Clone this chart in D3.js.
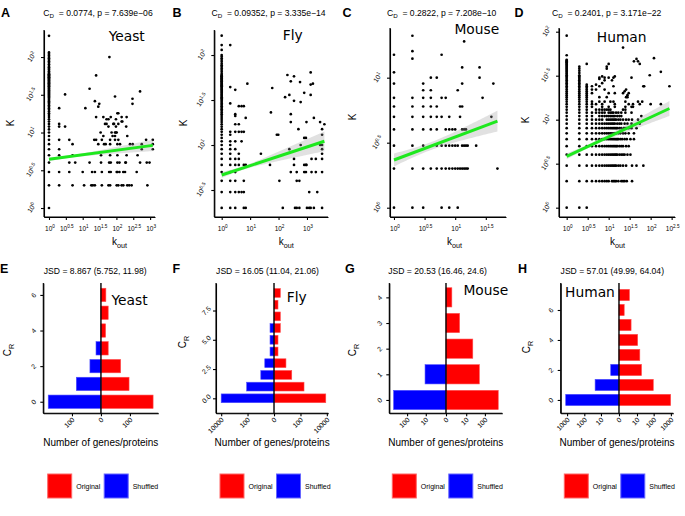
<!DOCTYPE html>
<html><head><meta charset="utf-8">
<script src="https://cdn.jsdelivr.net/npm/d3@7"></script>
<style>
body{margin:0;background:#fff}
text,tspan{font-family:"Liberation Sans",Arial,Helvetica,sans-serif;fill:#000}
.sp{font-family:"DejaVu Sans",sans-serif}
.axis path,.axis line{stroke:#000;stroke-width:1.1}
</style>
</head><body>
<svg id="c" width="685" height="516" xmlns="http://www.w3.org/2000/svg"></svg>
<script>
// ================= DATA =================
const speciesNames = ["Yeast","Fly","Mouse","Human"];
const cdValues = ["0.0774","0.09352","0.2822","0.2401"];
const pValues = ["7.639e\u221206","3.335e\u221214","7.208e\u221210","3.171e\u221222"];
const jsdLabels = ["8.867 (5.752, 11.98)","16.05 (11.04, 21.06)","20.53 (16.46, 24.6)","57.01 (49.99, 64.04)"];

// scatter: K values at k_out = 1 (columns) and [K, [k_out...]] rows / [k_out, [K...]] columns
const yeastCol1 = [1,2,3,4,5,6,7,8,9,10,11,12,13,14,15,16,17,18,19,20,21,22,23,24,25,26,27,28,29,30,31,32,33,34,35,36,37,38,39,40,41,42,43,44,45,46,47,48,49,50,51,52,53,54,55,56,57,58,59,60,62,65,68,70,73,76,80,84,88,92,96,100,105,110,115,191];
const yeastRows = [
 [2,[2,5,11,18,20,23,37,58,65,102,114,143,160,210,240,283,830]],
 [3,[2,4,10,19,23,37,61,68,102,107,123,160,180,400]],
 [4,[4,6,16,35,61,68,107,123,185,190,503,795,960]],
 [5,[2,5,35,65,107,201,425]],
 [6,[2,565,1200]],
 [7,[5,29,43,48,65,107,128,253,304,565,1200]],
 [8,[2,4,22,25,37,65,91,114,760,1200]],
 [9,[41,77,91,210]],
 [10,[34,72,91,97,102]],
 [12,[2,3,58,97,195]],
 [13,[2,46,51,81,85,114]],
 [14,[143,150]],
 [15,[51,58,97]],
 [16,[25,41,68,143,201]],
 [18,[107,114]],
 [21,[2,12]],
 [22,[29]],
 [24,[31,300]],
 [26,[23]],
 [28,[300]],
 [30,[91]],
 [32,[3]],
 [35,[503]],
 [38,[16]],
 [57,[25]],
 [100,[62]]
];
const flyCol1 = [2,3,4,5,6,7,8,9,10,11,12,13,14,15,16,17,18,19,20,21,22,23,24,25,26,27,28,29,30,31,32,33,34,35,36,37,38,39,40,41,42,43,44,45,46,47,48,49,50,51,52,53,54,55,56,57,58,59,60,62,65,68,71,74,77,80,84,88,92,96,100,114,129,164];
const flyCols = [
 [2,[129,44,29,14,13,11,10,9,8,7,6,5,4,3,2]],
 [3,[41,22,21,17,14,11,9,7,6,5,4,3,2]],
 [4,[27,17,14,8,7,6,3]],
 [5,[27,14,11,3]],
 [6,[27,14,6,4,3,2]],
 [7,[20,6,2]],
 [8,[48]],
 [24,[8]],
 [50,[6]],
 [54,[23]],
 [60,[43]],
 [87,[13]],
 [98,[13]],
 [107,[4]],
 [141,[2]],
 [170,[34]],
 [205,[60]],
 [240,[36,9]],
 [270,[51,22,18,5]],
 [350,[58,31,7,6]],
 [380,[2]],
 [436,[5,4,2]],
 [500,[15]],
 [540,[4,2]],
 [570,[50]],
 [600,[30,10]],
 [800,[38,12,6,5]],
 [920,[12,6,5]],
 [960,[18,6]],
 [1000,[2]],
 [1200,[3,2]],
 [1350,[64,47,36,2]],
 [1450,[7,5]],
 [1620,[48]],
 [1750,[20,2]],
 [2050,[7,5]],
 [2300,[3]],
 [2900,[18,10]],
 [3400,[15,13,10,9,8,7,5,2]],
 [4100,[17]]
];
const mouseCols = [
 [1,[15,11,9,7,6,5,4,3,2,1]],
 [2,[21,16,14,7,6,5,4,3,2,1]],
 [3,[9,8,7,6,5,4,3,2,1]],
 [4,[10,8,7,6,5,4,2]],
 [5,[10,6,5,4,3,2]],
 [6,[15,7,5,3,2,1]],
 [7,[7,4,3,2]],
 [8,[5,4,3,2,1]],
 [9,[4,3,2]],
 [10,[4,3,2]],
 [11,[8,3,2,1]],
 [12,[6,5,2]],
 [13,[12,9,6,4,3,2]],
 [14,[19,4,3,2]],
 [15,[4,3,2]],
 [16,[3,2]],
 [22,[3]],
 [25,[12,10]],
 [28,[7]],
 [39,[5]],
 [42,[9]],
 [49,[2]]
];
const humanCol1 = [1,2,3,4,5,6,7,8,9,10,11,12,13,14,15,16,17,18,19,20,21,22,23,24,25,26,27,28,29,30,31,32,33,34,35,36,37,38,39,40,41,42,43,44,45,46,47,48,54,90];
const humanCol2 = [1,2,3,4,5,6,7,8,9,10,11,12,13,14,15,16,17,18,19,20,21,22,23,24,25,26,27,28,29,30,31,32,34,36,38,40];
const humanCol3 = [1,2,3,4,5,6,7,8,9,10,11,12,13,14,15,16,17,18,19,20,21,22,23,24,25,43];
const humanRows = [
 [2,[4,5,6,7,8,9,10,12,13,14,15,17,20,22,24,27,36]],
 [3,[4,5,6,7,8,9,10,11,12,13,14,15,17,19,22,26,36,46,67]],
 [4,[4,5,6,7,8,9,10,11,12,13,14,15,16,18,20,22,24,28,33]],
 [5,[4,5,6,7,8,9,10,11,12,13,14,15,16,18,20,22,26,30]],
 [6,[4,5,6,7,8,9,10,11,12,13,14,15,16,17,19,21,24,27,33,40]],
 [7,[4,5,6,7,8,9,10,11,12,13,14,15,17,19,22,25,30,40]],
 [8,[4,5,6,7,8,9,10,11,12,13,14,15,16,18,20,23,26,30,35,46]],
 [9,[4,5,6,7,8,9,10,11,12,13,14,16,18,20,24,28,35,55]],
 [10,[4,5,6,7,9,10,11,12,13,14,15,17,19,22,26,30,36,50]],
 [11,[4,6,7,8,9,10,11,12,13,14,16,18,20,60]],
 [12,[4,5,6,7,8,10,11,12,13,15,17,20,25,35]],
 [13,[5,6,7,8,9,10,11,22,25]],
 [14,[4,7,10,14,25,35,38]],
 [15,[4,5,7,14,30,38,55,100,175]],
 [16,[4,6,8,11,13,25,50,63]],
 [18,[6,9,26,28]],
 [19,[28]],
 [20,[4,10,14,22,30]],
 [21,[24]],
 [22,[4,5,8,26]],
 [24,[4,6,13,67,70,280]],
 [25,[5]],
 [26,[7]],
 [28,[8,12]],
 [29,[6]],
 [30,[6,8,10,13,35]],
 [31,[7,14]],
 [32,[95]],
 [35,[175]],
 [38,[9]],
 [40,[9]],
 [43,[10,55]],
 [46,[40,50]],
 [49,[46]],
 [50,[120]],
 [66,[22]]
];
// fitted lines in log10 space
const fitIntercept = [0.645,0.667,0.367,0.584];
const fitSlope = [0.06,0.1036,0.177,0.222];
const bandMin = [0.015,0.02,0.03,0.02];
const bandRight = [0.075,0.11,0.08,0.085];
const bandCenterFrac = [0.2,0.2,0.35,0.25];
// tick exponents
const xTickExp = [[0,0.5,1,1.5,2,2.5,3],[0,1,2,3],[0,0.5,1,1.5],[0,0.5,1,1.5,2,2.5]];
const yTickExp = [[0,0.5,1,1.5,2],[0.5,1,1.5,2],[0,0.5,1],[0,0.5,1,1.5,2]];

// bar charts
const crYeast = [0,1,2,3,4,5,6];
const origYeast = [180,97,68,25,16,25,17];
const shufYeast = [182,85,38,17,0,0,0];
const crFly = [0,1,2,3,4,5,6,7,8,9];
const origFly = [8300,186,21,7,1,1,2,2,1,2];
const shufFly = [10000,116,9,4,1,1,1,0,0,0];
const crMouse = [0,1,2,3,4];
const origMouse = [490,51,23,4,1];
const shufMouse = [500,11,0,0,0];
const crHuman = [0,1,2,3,4,5,6,7];
const origHuman = [970,95,19,15,11,4,1,3];
const shufHuman = [1200,23,2,0,0,0,0,0];
const barXTicks = [[-100,0,100],[-10000,-100,0,100,10000],[-100,-10,0,10,100],[-1000,-100,-10,0,10,100,1000]];
const barYTicks = [[0,2,4,6],[0,2.5,5,7.5],[0,1,2,3,4],[0,2,4,6]];
const barYFormat = ["d",".1f","d","d"];

// ================= BUILD POINTS =================
const yeastPts = [...yeastCol1.map(k=>[1,k]), ...yeastRows.flatMap(([k,xs])=>xs.map(v=>[v,k]))];
const flyPts = [...flyCol1.map(k=>[1,k]), ...flyCols.flatMap(([v,ks])=>ks.map(k=>[v,k]))];
const mousePts = mouseCols.flatMap(([v,ks])=>ks.map(k=>[v,k]));
const humanPts = [...humanCol1.map(k=>[1,k]), ...humanCol2.map(k=>[2,k]), ...humanCol3.map(k=>[3,k]),
  ...humanRows.flatMap(([k,xs])=>xs.map(v=>[v,k]))];
const allPts = [yeastPts, flyPts, mousePts, humanPts];

// ================= LAYOUT =================
const scatterL = [
 {x0:44, x1:155, y0:30, y1:217, xl:[-0.148,3.145], yl:[-0.119,2.358], letterX:1, titleX:98, spX:126.7, spY:40.7, kX:14, kY:123, koX:119.5},
 {x0:214.3, x1:328, y0:30, y1:217, xl:[-0.26,3.74], yl:[0.2,2.278], letterX:172.5, titleX:268.5, spX:292.8, spY:39.5, kX:187, kY:123, koX:286.3},
 {x0:390, x1:506, y0:28, y1:217, xl:[-0.065,1.83], yl:[-0.0715,1.382], letterX:342.5, titleX:441.7, spX:476.8, spY:34, kX:355.5, kY:117, koX:454.5},
 {x0:559, x1:675, y0:28, y1:217, xl:[-0.183,2.58], yl:[-0.106,2.042], letterX:514.5, titleX:606.7, spX:621.7, spY:41.7, kX:529, kY:120, koX:617.5}
];
const barL = [
 {x0:43.3, x1:158.3, y0:283, y1:413.3, xd:[-199,198], yd:[-0.65,6.67], lin:true, letterX:0, titleX:95.2, spX:129.5, spY:304.5, crX:11, crY:350, legX:47.7},
 {x0:216, x1:328.3, y0:283, y1:413.3, xd:[-24700,12900], yd:[-1.28,9.85], letterX:172.5, titleX:267.5, spX:296.7, spY:301.5, crX:186, crY:342, legX:220},
 {x0:389.3, x1:502.3, y0:283, y1:413.3, xd:[-833,795], yd:[-0.52,4.56], letterX:345, titleX:437.5, spX:485.8, spY:295, crX:356, crY:350, legX:392.3},
 {x0:560.7, x1:673.3, y0:283, y1:413.3, xd:[-2340,1380], yd:[-0.89,7.8], letterX:518, titleX:612.3, spX:590, spY:296.7, crX:530, crY:347, legX:564.3}
];
const crData = [[crYeast,origYeast,shufYeast],[crFly,origFly,shufFly],[crMouse,origMouse,shufMouse],[crHuman,origHuman,shufHuman]];

const svg = d3.select("#c");
svg.append("rect").attr("width",685).attr("height",516).attr("fill","#fff");

function rich(parent, x, y, parts, size, anchor, transform){
  const t = parent.append("text").attr("x",x).attr("y",y).attr("font-size",size).attr("fill","#000").attr("text-anchor",anchor||"middle");
  if(transform) t.attr("transform",transform);
  let shift = 0;
  parts.forEach(([s,kind])=>{
    const target = kind==="sub" ? size*0.3 : kind==="sup" ? -size*0.42 : 0;
    t.append("tspan").attr("fill","#000").attr("dy", target-shift).attr("font-size", (kind==="sub"||kind==="sup") ? size*0.72 : size).text(s);
    shift = target;
  });
  return t;
}
function fmtExp(e){ return (Math.round(e*10)/10).toString(); }

// ================= SCATTER PANELS =================
scatterL.forEach((L,i)=>{
  const pts = allPts[i];
  const g = svg.append("g");
  const x = d3.scaleLog().domain([10**L.xl[0],10**L.xl[1]]).range([L.x0,L.x1]);
  const y = d3.scaleLog().domain([10**L.yl[0],10**L.yl[1]]).range([L.y1,L.y0]);

  g.append("g").selectAll("circle").data(pts).join("circle")
    .attr("cx",d=>x(d[0])).attr("cy",d=>y(d[1])).attr("r",1.35).attr("fill","#000");

  const lmax = Math.log10(d3.max(pts,d=>d[0]));
  const steps = d3.range(0,61).map(j=>lmax*j/60);
  const m = bandCenterFrac[i]*lmax, b0 = bandMin[i], b1 = bandRight[i];
  const kk = Math.sqrt(b1*b1-b0*b0)/(lmax-m);
  const hw = l=>Math.sqrt(b0*b0+(kk*(l-m))**2);
  const fit = l=>fitIntercept[i]+fitSlope[i]*l;
  g.append("path").attr("d", d3.area().x(l=>x(10**l)).y0(l=>y(10**(fit(l)-hw(l)))).y1(l=>y(10**(fit(l)+hw(l))))(steps))
    .attr("fill","#9a9a9a").attr("opacity",0.3);
  g.append("path").attr("d", d3.line().x(l=>x(10**l)).y(l=>y(10**fit(l)))([0,lmax]))
    .attr("stroke","#1ee81e").attr("stroke-width",3).attr("fill","none");

  const xa = d3.axisBottom(x).tickValues(xTickExp[i].map(e=>10**e)).tickFormat("").tickSize(3).tickSizeOuter(0);
  g.append("g").attr("class","axis").attr("transform",`translate(0,${L.y1})`).call(xa);
  const ya = d3.axisLeft(y).tickValues(yTickExp[i].map(e=>10**e)).tickFormat("").tickSize(3).tickSizeOuter(0);
  g.append("g").attr("class","axis").attr("transform",`translate(${L.x0},0)`).call(ya);
  g.append("line").attr("x1",L.x0).attr("x2",L.x0).attr("y1",L.y0).attr("y2",L.y1).attr("stroke","#000").attr("stroke-width",1.1);
  g.append("line").attr("x1",L.x0).attr("x2",L.x1).attr("y1",L.y1).attr("y2",L.y1).attr("stroke","#000").attr("stroke-width",1.1);

  xTickExp[i].forEach(e=>{
    rich(g, x(10**e)+1, L.y1+14, [["10"],[fmtExp(e),"sup"]], 6.5, "middle");
  });
  yTickExp[i].forEach(e=>{
    const cx = L.x0-12, cy = y(10**e);
    rich(g, 0, 2, [["10"],[fmtExp(e),"sup"]], 6.8, "middle", `translate(${cx},${cy}) rotate(-55)`);
  });

  svg.append("text").attr("x",L.letterX).attr("y",16.7).attr("font-size",12.5).attr("font-weight","bold").text(String.fromCharCode(65+i));
  rich(svg, L.titleX, 15.5, [["C"],["D","sub"],[" \u00A0= "+cdValues[i]+", p = "+pValues[i]]], 8.6, "middle");
  svg.append("text").attr("class","sp").attr("x",L.spX).attr("y",L.spY).attr("font-size",13.8).attr("text-anchor","middle").text(speciesNames[i]);
  svg.append("text").attr("font-size",10).attr("text-anchor","middle").attr("transform",`translate(${L.kX},${L.kY}) rotate(-90)`).text("K");
  rich(svg, L.koX, 245, [["k"],["out","sub"]], 10, "middle");
});

// ================= BAR PANELS =================
barL.forEach((L,i)=>{
  const [cr, orig, shuf] = crData[i];
  const g = svg.append("g");
  const x = (L.lin ? d3.scaleLinear() : d3.scaleSymlog()).domain(L.xd).range([L.x0,L.x1]);
  const y = d3.scaleLinear().domain(L.yd).range([L.y1,L.y0]);
  const bh = y(-0.375)-y(0.375);
  const rows = cr.map((c,j)=>({c, o:orig[j], s:shuf[j]}));
  g.selectAll("rect.o").data(rows.filter(r=>r.o>0)).join("rect").attr("class","o")
    .attr("x",x(0)).attr("width",d=>x(d.o)-x(0)).attr("y",d=>y(d.c)-bh/2).attr("height",bh)
    .attr("fill","#ff0000").attr("stroke","#ff4d4d").attr("stroke-width",0.6);
  g.selectAll("rect.s").data(rows.filter(r=>r.s>0)).join("rect").attr("class","s")
    .attr("x",d=>x(-d.s)).attr("width",d=>x(0)-x(-d.s)).attr("y",d=>y(d.c)-bh/2).attr("height",bh)
    .attr("fill","#0000ff").attr("stroke","#4d4dff").attr("stroke-width",0.6);
  g.append("line").attr("x1",x(0)).attr("x2",x(0)).attr("y1",L.y0).attr("y2",L.y1).attr("stroke","#000").attr("stroke-width",1.4);

  const xa = d3.axisBottom(x).tickValues(barXTicks[i]).tickFormat("").tickSize(3).tickSizeOuter(0);
  g.append("g").attr("class","axis").attr("transform",`translate(0,${L.y1})`).call(xa);
  const ya = d3.axisLeft(y).tickValues(barYTicks[i]).tickFormat("").tickSize(3).tickSizeOuter(0);
  g.append("g").attr("class","axis").attr("transform",`translate(${L.x0},0)`).call(ya);
  g.append("line").attr("x1",L.x0).attr("x2",L.x0).attr("y1",L.y0).attr("y2",L.y1).attr("stroke","#000").attr("stroke-width",1.1);
  g.append("line").attr("x1",L.x0).attr("x2",L.x1).attr("y1",L.y1).attr("y2",L.y1).attr("stroke","#000").attr("stroke-width",1.1);

  barXTicks[i].forEach(v=>{
    g.append("text").attr("font-size",6.8).attr("text-anchor","end")
      .attr("transform",`translate(${x(v)+3},${L.y1+7}) rotate(-45)`).text(Math.abs(v));
  });
  const yf = d3.format(barYFormat[i]);
  barYTicks[i].forEach(v=>{
    g.append("text").attr("font-size",6.8).attr("text-anchor","middle")
      .attr("transform",`translate(${L.x0-8},${y(v)+2}) rotate(-45)`).text(yf(v));
  });

  svg.append("text").attr("x",L.letterX).attr("y",273.3).attr("font-size",12.5).attr("font-weight","bold").text(String.fromCharCode(69+i));
  svg.append("text").attr("x",L.titleX).attr("y",273.5).attr("font-size",8.6).attr("text-anchor","middle").text("JSD = "+jsdLabels[i]);
  svg.append("text").attr("class","sp").attr("x",L.spX).attr("y",L.spY).attr("font-size",13.8).attr("text-anchor","middle").text(speciesNames[i]);
  rich(svg, 0, 0, [["C"],["R","sub"]], 10, "middle", `translate(${L.crX},${L.crY}) rotate(-90)`);
  svg.append("text").attr("x",(L.x0+L.x1)/2).attr("y",446).attr("font-size",10).attr("text-anchor","middle").text("Number of genes/proteins");

  const lg = svg.append("g").attr("transform",`translate(${L.legX},474)`);
  lg.append("rect").attr("x",0).attr("y",0).attr("width",24).attr("height",24).attr("fill","#ff0000").attr("stroke","#ff6666").attr("stroke-width",1);
  lg.append("text").attr("x",28.5).attr("y",14.8).attr("font-size",7).text("Original");
  lg.append("rect").attr("x",56.5).attr("y",0).attr("width",24).attr("height",24).attr("fill","#0000ff").attr("stroke","#6666ff").attr("stroke-width",1);
  lg.append("text").attr("x",85).attr("y",14.8).attr("font-size",7).text("Shuffled");
});
</script>
</body></html>
